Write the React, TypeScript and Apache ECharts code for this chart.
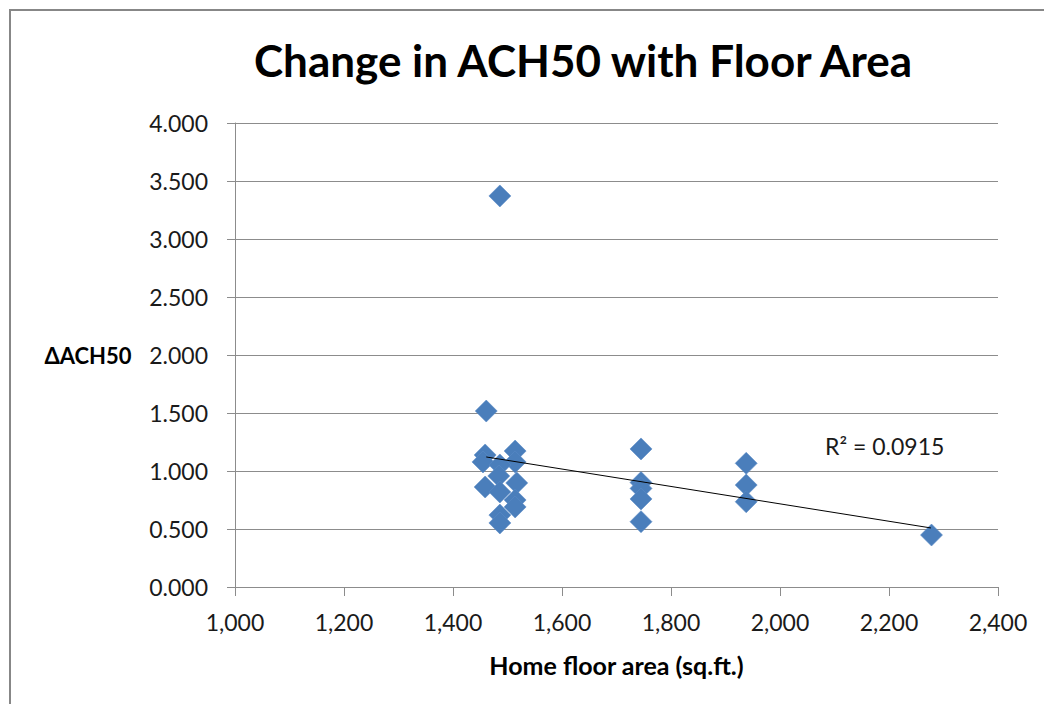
import React, { useEffect, useRef } from "react";
import * as echarts from "echarts";

const floorArea = [
  1486, 1461, 1459, 1455, 1514, 1514, 1486, 1484, 1459, 1486, 1517, 1514, 1514, 1486, 1486,
  1745, 1745, 1745, 1745, 1745,
  1938, 1938, 1938,
  2278,
];
const deltaACH50 = [
  3.371, 1.517, 1.138, 1.078, 1.172, 1.078, 1.052, 0.957, 0.862, 0.819, 0.897, 0.75, 0.69, 0.62, 0.552,
  1.19, 0.9, 0.85, 0.759, 0.563,
  1.066, 0.879, 0.735,
  0.448,
];
const trendX = [1461, 2277];
const trendY = [1.121, 0.509];
const xTicks = [1000, 1200, 1400, 1600, 1800, 2000, 2200, 2400];
const yTicks = [0, 0.5, 1, 1.5, 2, 2.5, 3, 3.5, 4];
const titleText = "Change in ACH50 with Floor Area";
const xName = "Home floor area (sq.ft.)";
const yName = "ΔACH50";
const rSquaredText = "R² = 0.0915";

const FONT = "Lato";

export default function App() {
  const ref = useRef<HTMLDivElement>(null);
  useEffect(() => {
    if (!ref.current) return;
    const chart = echarts.init(ref.current, null, { renderer: "svg" });
    const points = floorArea.map((x, i) => [x, deltaACH50[i]]);
    const trend = trendX.map((x, i) => [x, trendY[i]]);
    chart.setOption({
      animation: false,
      backgroundColor: "#ffffff",
      textStyle: { fontFamily: FONT },
      title: {
        text: titleText,
        left: 578,
        top: 33,
        textAlign: "center",
        textStyle: { fontFamily: FONT, fontWeight: "bold", fontSize: 44, color: "#000" },
      },
      grid: { left: 235, right: 46, top: 123, bottom: 117, containLabel: false },
      xAxis: {
        type: "value",
        min: xTicks[0],
        max: xTicks[xTicks.length - 1],
        interval: 200,
        name: xName,
        nameLocation: "middle",
        nameGap: 65,
        nameTextStyle: { fontFamily: FONT, fontWeight: "bold", fontSize: 25, color: "#000" },
        axisLine: { show: true, lineStyle: { color: "#8c8c8c", width: 1 } },
        axisTick: { show: true, length: 9, lineStyle: { color: "#8c8c8c" } },
        axisLabel: {
          margin: 23,
          fontFamily: FONT,
          fontSize: 23,
          color: "#1a1a1a",
          formatter: (v: number) => v.toLocaleString("en-US"),
        },
        splitLine: { show: false },
      },
      yAxis: {
        type: "value",
        min: yTicks[0],
        max: yTicks[yTicks.length - 1],
        interval: 0.5,
        name: yName,
        nameLocation: "middle",
        nameRotate: 0,
        nameGap: 147,
        nameTextStyle: { fontFamily: FONT, fontWeight: "bold", fontSize: 22, color: "#000", align: "center" },
        axisLine: { show: true, lineStyle: { color: "#8c8c8c", width: 1 } },
        axisTick: { show: true, length: 8, lineStyle: { color: "#8c8c8c" } },
        axisLabel: {
          margin: 27,
          fontFamily: FONT,
          fontSize: 23,
          color: "#1a1a1a",
          formatter: (v: number) => v.toFixed(3),
        },
        splitLine: { show: true, lineStyle: { color: "#8c8c8c", width: 1 } },
      },
      graphic: [
        {
          type: "rect",
          shape: { x: 10, y: 10, width: 1100, height: 800 },
          style: { fill: "none", stroke: "#878787", lineWidth: 2 },
          silent: true,
        },
        {
          type: "text",
          x: 825,
          y: 446,
          style: {
            text: rSquaredText,
            fontFamily: FONT,
            fontSize: 23,
            fill: "#1a1a1a",
            verticalAlign: "middle",
          },
        },
      ],
      series: [
        {
          type: "scatter",
          data: points,
          symbol: "diamond",
          symbolSize: 22,
          itemStyle: { color: "#4a7ebb", opacity: 1, borderColor: "#5a8bc6", borderWidth: 0.6 },
          z: 2,
        },
        {
          type: "line",
          data: trend,
          showSymbol: false,
          symbol: "none",
          lineStyle: { color: "#000", width: 1 },
          z: 3,
        },
      ],
    });
    return () => chart.dispose();
  }, []);
  return (
    <div
      ref={ref}
      style={{ position: "fixed", left: 0, top: 0, width: 1044, height: 704 }}
    />
  );
}
